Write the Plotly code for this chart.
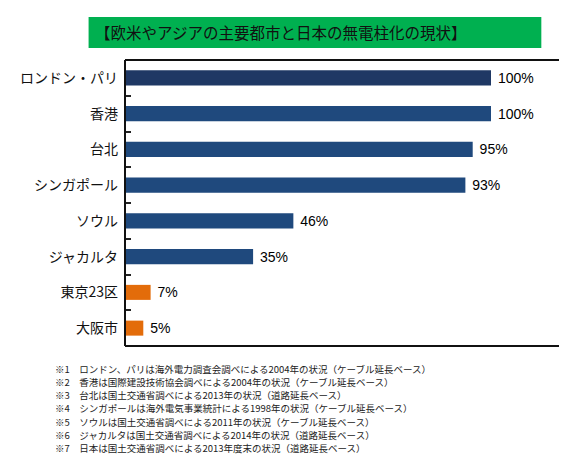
import plotly.graph_objects as go

# 欧米やアジアの主要都市と日本の無電柱化率
cities = ["ロンドン・パリ", "香港", "台北", "シンガポール", "ソウル", "ジャカルタ", "東京23区", "大阪市"]
rates = [100, 100, 95, 93, 46, 35, 7, 5]
bar_colors = ["#1F3864", "#1F497D", "#1F497D", "#1F497D", "#1F497D", "#1F497D", "#E36C0A", "#E36C0A"]

title = "【欧米やアジアの主要都市と日本の無電柱化の現状】"
notes = [
    "※1　ロンドン、パリは海外電力調査会調べによる2004年の状況（ケーブル延長ベース）",
    "※2　香港は国際建設技術協会調べによる2004年の状況（ケーブル延長ベース）",
    "※3　台北は国土交通省調べによる2013年の状況（道路延長ベース）",
    "※4　シンガポールは海外電気事業統計による1998年の状況（ケーブル延長ベース）",
    "※5　ソウルは国土交通省調べによる2011年の状況（ケーブル延長ベース）",
    "※6　ジャカルタは国土交通省調べによる2014年の状況（道路延長ベース）",
    "※7　日本は国土交通省調べによる2013年度末の状況（道路延長ベース）",
]

JP = "Noto Sans CJK JP"
W, H = 567, 456
L, R, T, B = 110, 13, 52, 118
ph = H - T - B


def py(y):
    # ピクセル位置 -> paper座標
    return (H - B - y) / ph


def px(x):
    return (x - L) / (W - L - R)


fig = go.Figure()
fig.add_trace(go.Bar(
    x=rates, y=cities, orientation="h",
    marker=dict(color=bar_colors, line=dict(width=0)),
    text=[" %d%%" % v for v in rates], textposition="outside",
    textfont=dict(family="Liberation Sans", size=14, color="#000"),
    constraintext="none", cliponaxis=False, hoverinfo="skip",
))

fig.update_layout(
    width=W, height=H,
    margin=dict(l=L, r=R, t=T, b=B),
    paper_bgcolor="white", plot_bgcolor="white",
    bargap=0.58, showlegend=False,
    font=dict(family=JP, color="#111"),
)
fig.update_xaxes(range=[0, 119.4], showticklabels=False, showgrid=False, zeroline=False,
                 showline=False, ticks="")
fig.update_yaxes(autorange="reversed", showgrid=False, zeroline=False,
                 showline=False,
                 ticks="inside", tickson="boundaries", ticklen=6, tickcolor="#222", tickwidth=1.5,
                 tickfont=dict(family=JP, size=14, color="#111"), ticklabelstandoff=6)

# 枠線（上下左右を個別の線で）
for x0, y0, x1, y1 in [(0, 0, 1, 0), (0, 1, 1, 1), (0, 0, 0, 1), (1, 0, 1, 1)]:
    fig.add_shape(type="line", xref="paper", yref="paper", x0=x0, y0=y0, x1=x1, y1=y1,
                  line=dict(color="#111", width=2), layer="above")

# タイトル（緑の帯）
fig.add_shape(type="rect", xref="paper", yref="paper",
              x0=px(73), x1=px(533), y0=py(40), y1=py(9),
              fillcolor="#00B050", line=dict(width=0), layer="below")
fig.add_annotation(text=title, xref="paper", yref="paper", x=px(77), y=py(24.5),
                   xanchor="left", yanchor="middle", showarrow=False,
                   font=dict(family=JP, size=15.5, color="#111"))

# 注記（1行ずつ）
for i, note in enumerate(notes):
    fig.add_annotation(text=note, xref="paper", yref="paper",
                       x=px(37), y=py(360.7 + 13.2 * i), xanchor="left", yanchor="middle",
                       showarrow=False, font=dict(family=JP, size=9.5, color="#222"))

fig.write_html("out.html")
